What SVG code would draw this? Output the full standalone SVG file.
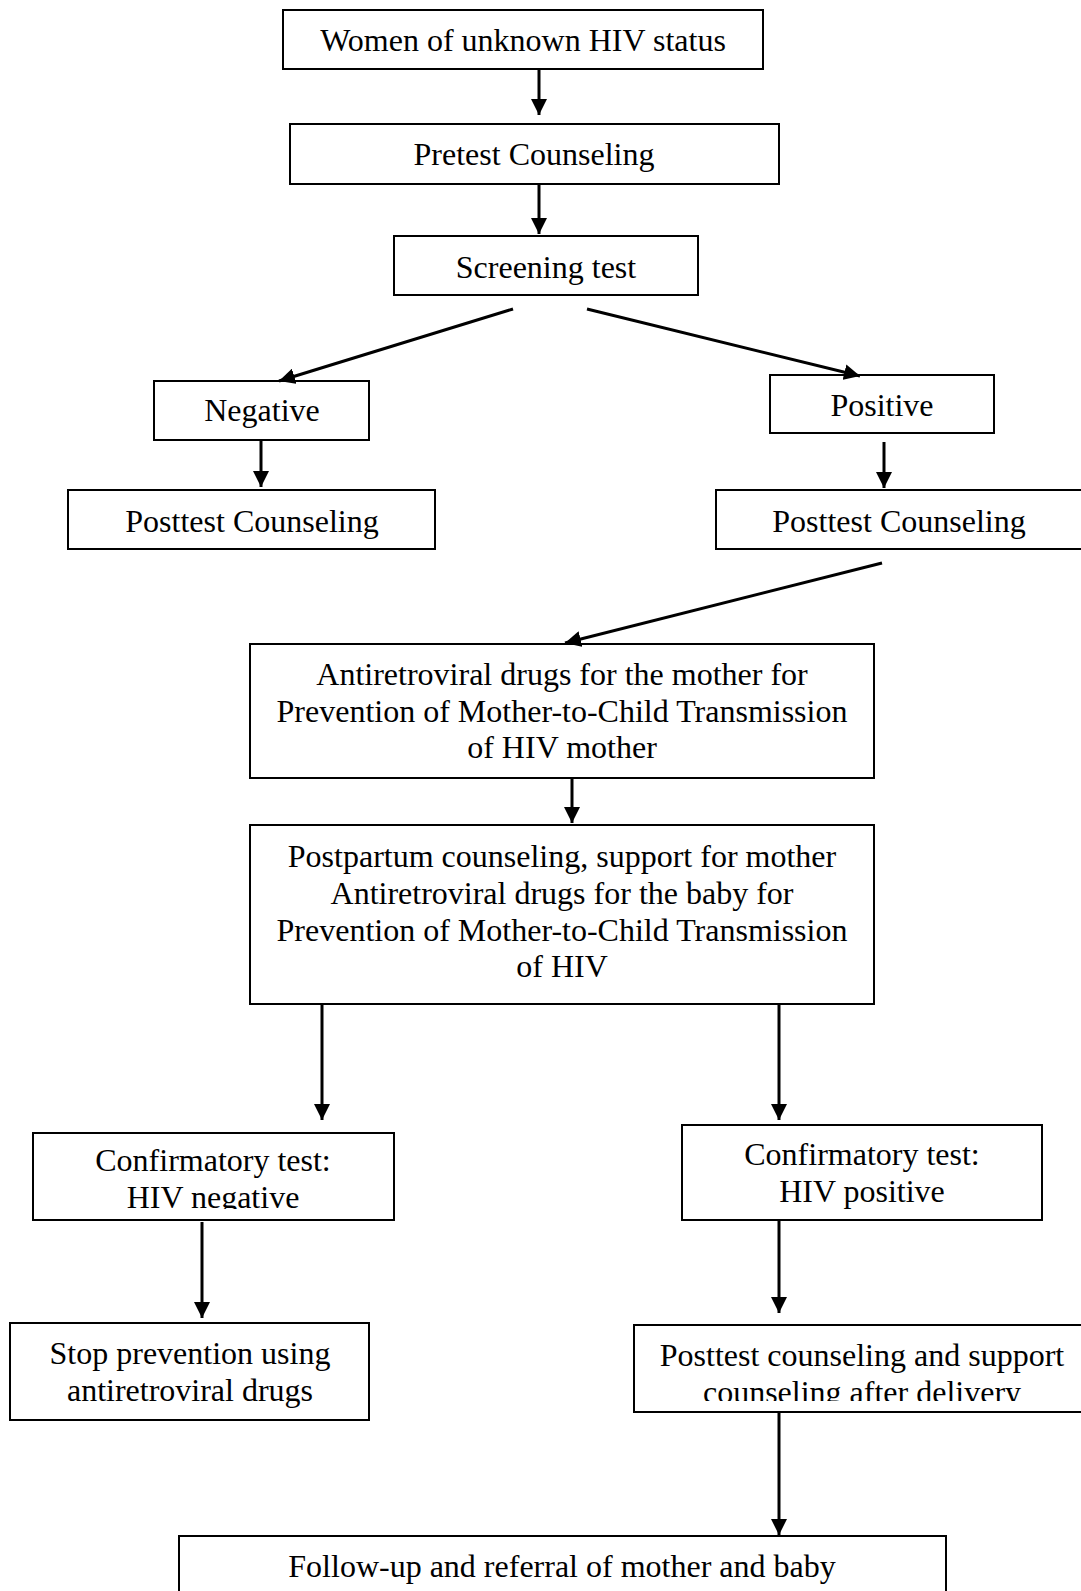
<svg xmlns="http://www.w3.org/2000/svg" width="1081" height="1591" viewBox="0 0 1081 1591">
<style>
rect.box{fill:#fff;stroke:#000;stroke-width:2}
text{font-family:"Liberation Serif","Times New Roman",serif;font-size:32px;fill:#000;text-anchor:middle}
.conn line{stroke:#000;stroke-width:3;marker-end:url(#ah)}
</style>
<defs>
<marker id="ah" markerUnits="userSpaceOnUse" markerWidth="17" markerHeight="16" refX="16" refY="8" orient="auto">
<path d="M0,0 L16,8 L0,16 Z" fill="#000"/>
</marker>
<clipPath id="c1"><rect x="0" y="1130" width="420" height="79"/></clipPath>
<clipPath id="c2"><rect x="630" y="1320" width="451" height="81"/></clipPath>
</defs>
<rect width="1081" height="1591" fill="#fff"/>
<g id="n1"><rect class="box" x="283" y="10" width="480" height="59"/><text x="523" y="51">Women of unknown HIV status</text></g>
<g id="n2"><rect class="box" x="290" y="124" width="489" height="60"/><text x="534" y="165">Pretest Counseling</text></g>
<g id="n3"><rect class="box" x="394" y="236" width="304" height="59"/><text x="546" y="278">Screening test</text></g>
<g id="n4"><rect class="box" x="154" y="381" width="215" height="59"/><text x="262" y="421">Negative</text></g>
<g id="n5"><rect class="box" x="770" y="375" width="224" height="58"/><text x="882" y="416">Positive</text></g>
<g id="n6"><rect class="box" x="68" y="490" width="367" height="59"/><text x="252" y="532">Posttest Counseling</text></g>
<g id="n7"><rect class="box" x="716" y="490" width="380" height="59"/><text x="899" y="532">Posttest Counseling</text></g>
<g id="n8"><rect class="box" x="250" y="644" width="624" height="134"/>
<text x="562" y="685">Antiretroviral drugs for the mother for</text>
<text x="562" y="722">Prevention of Mother-to-Child Transmission</text>
<text x="562" y="758">of HIV mother</text></g>
<g id="n9"><rect class="box" x="250" y="825" width="624" height="179"/>
<text x="562" y="867">Postpartum counseling, support for mother</text>
<text x="562" y="904">Antiretroviral drugs for the baby for</text>
<text x="562" y="941">Prevention of Mother-to-Child Transmission</text>
<text x="562" y="977">of HIV</text></g>
<g id="n10"><rect class="box" x="33" y="1133" width="361" height="87"/>
<g clip-path="url(#c1)"><text x="213" y="1171">Confirmatory test:</text>
<text x="213" y="1208">HIV negative</text></g></g>
<g id="n11"><rect class="box" x="682" y="1125" width="360" height="95"/>
<text x="862" y="1165">Confirmatory test:</text>
<text x="862" y="1202">HIV positive</text></g>
<g id="n12"><rect class="box" x="10" y="1323" width="359" height="97"/>
<text x="190" y="1364">Stop prevention using</text>
<text x="190" y="1401">antiretroviral drugs</text></g>
<g id="n13"><rect class="box" x="634" y="1325" width="460" height="87"/>
<g clip-path="url(#c2)"><text x="862" y="1366">Posttest counseling and support</text>
<text x="862" y="1403">counseling after delivery</text></g></g>
<g id="n14"><rect class="box" x="179" y="1536" width="767" height="70"/>
<text x="562" y="1577">Follow-up and referral of mother and baby</text></g>
<g class="conn" id="connectors">
<line x1="539" y1="69" x2="539" y2="115"/>
<line x1="539" y1="184" x2="539" y2="234"/>
<line x1="513" y1="309" x2="279" y2="381"/>
<line x1="587" y1="309" x2="860" y2="376"/>
<line x1="261" y1="440" x2="261" y2="487"/>
<line x1="884" y1="442" x2="884" y2="488"/>
<line x1="882" y1="563" x2="565" y2="643"/>
<line x1="572" y1="778" x2="572" y2="823"/>
<line x1="322" y1="1004" x2="322" y2="1120"/>
<line x1="779" y1="1004" x2="779" y2="1120"/>
<line x1="202" y1="1222" x2="202" y2="1318"/>
<line x1="779" y1="1220" x2="779" y2="1313"/>
<line x1="779" y1="1412" x2="779" y2="1535"/>
</g>
</svg>
